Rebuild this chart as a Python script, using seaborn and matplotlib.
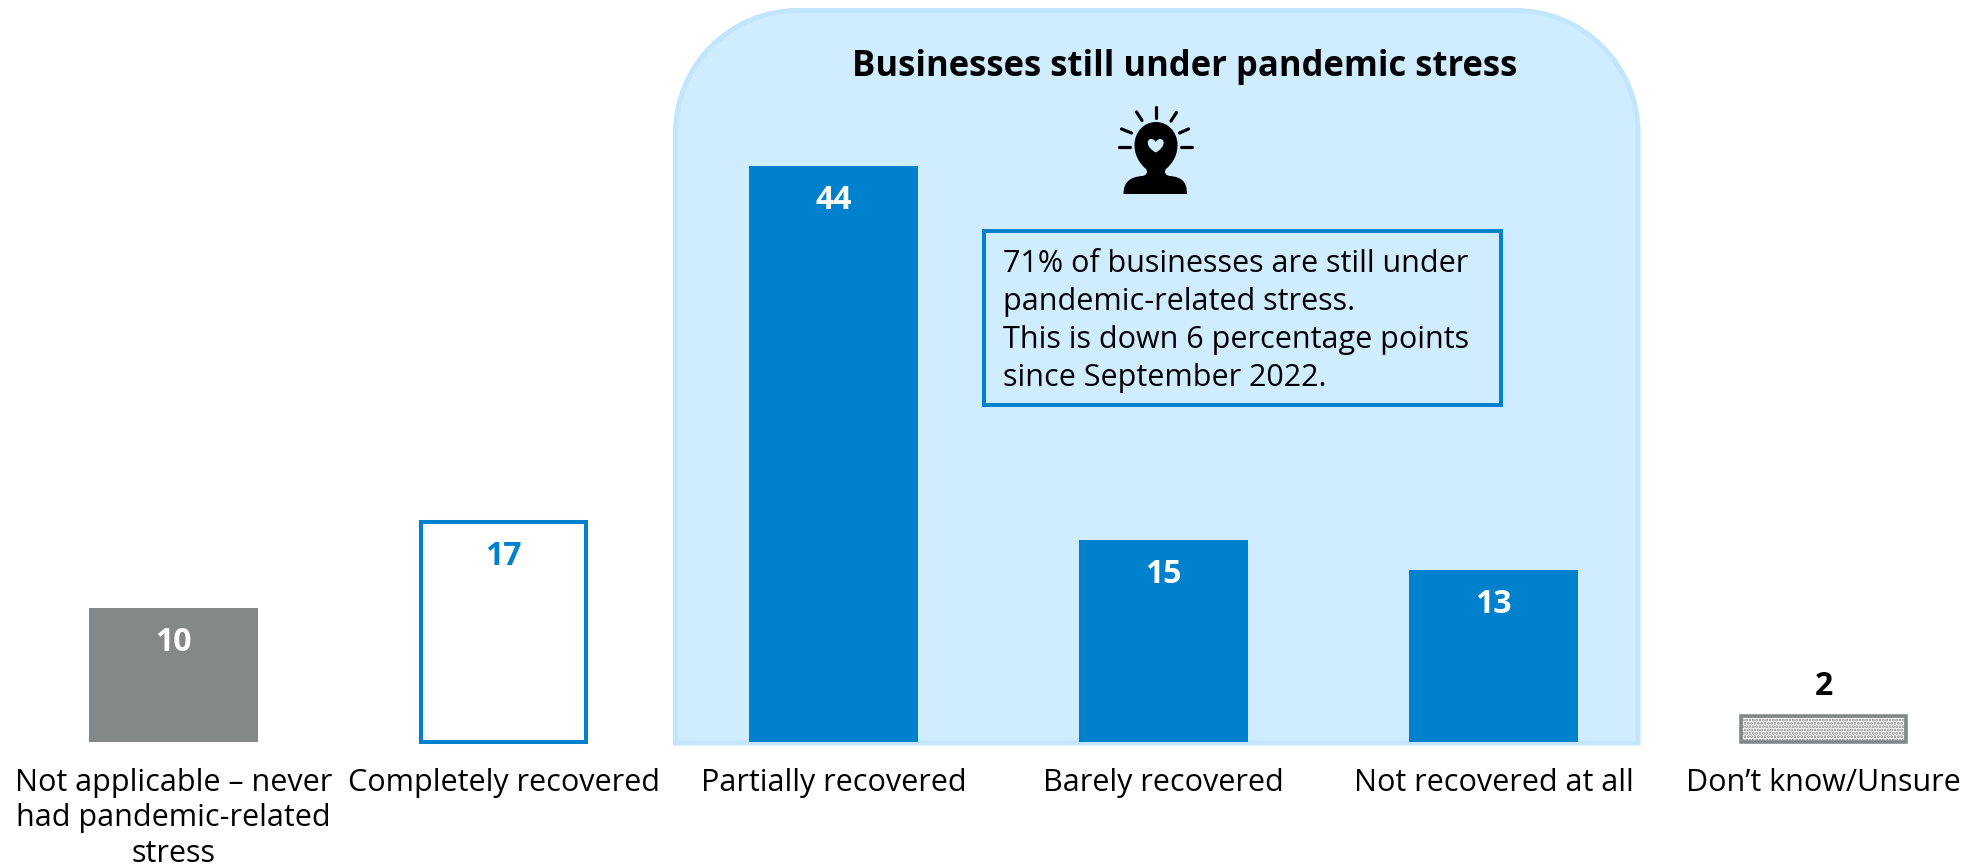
from __future__ import annotations

import matplotlib

matplotlib.use("Agg")

import matplotlib.pyplot as plt
import seaborn as sns
from matplotlib.patches import PathPatch, Rectangle
from matplotlib.path import Path
from matplotlib.transforms import Affine2D

categories = [
    "Not applicable \u2013 never\nhad pandemic-related\nstress",
    "Completely recovered",
    "Partially recovered",
    "Barely recovered",
    "Not recovered at all",
    "Don\u2019t know/Unsure",
]
# bar lengths; the printed labels are these, rounded
values = [10.2, 16.8, 44, 15.4, 13.1, 2]
bar_colors = ["#858888", "#FFFFFF", "#0081CE", "#0081CE", "#0081CE", "#FFFFFF"]
label_colors = ["white", "#0081CE", "white", "white", "white", "black"]

title_text = "Businesses still under pandemic stress"
note_text = (
    "71% of businesses are still under\n"
    "pandemic-related stress.\n"
    "This is down 6 percentage points\n"
    "since September 2022."
)

W, H = 1975, 867
BLUE = "#0081CE"
GREY = "#858888"
FONT = "Open Sans"

sns.set_theme(style="white")
plt.rcParams["font.family"] = [FONT, "DejaVu Sans"]
plt.rcParams["hatch.linewidth"] = 1.4

fig = plt.figure(figsize=(W / 100, H / 100), dpi=100, facecolor="white")
ax = fig.add_axes([0, (H - 742) / H, 1, 742 / H])
ax.patch.set_alpha(0)

sns.barplot(
    x=categories,
    y=values,
    hue=categories,
    palette=bar_colors,
    width=0.512,
    legend=False,
    saturation=1,
    edgecolor="none",
    ax=ax,
)
ax.set_xlim(-173.5 / 330, (W - 173.5) / 330)
ax.set_ylim(0, 742 / 13.1)
sns.despine(ax=ax, left=True, bottom=True)
ax.yaxis.set_visible(False)
ax.tick_params(axis="x", length=0, pad=19, labelsize=22, labelcolor="black")
for lab in ax.get_xticklabels():
    lab.set_linespacing(1.22)

bars = [c[0] for c in ax.containers]
for bar in bars:
    bar.set_zorder(2)
inset = 2 / 330
for i, lw, col in [(1, 2.9, BLUE), (5, 2.6, GREY)]:
    bars[i].set_x(bars[i].get_x() + inset)
    bars[i].set_width(bars[i].get_width() - 2 * inset)
    bars[i].set(edgecolor=col, linewidth=lw, clip_on=False)
bars[5].set_hatch(".....")

for i, (val, col) in enumerate(zip(values, label_colors)):
    offset = 29 if i == 5 else -34.5
    ax.annotate(
        f"{val:.0f}",
        (i, val),
        xytext=(0, offset * 0.72),
        textcoords="offset points",
        ha="center",
        va="center",
        fontsize=23,
        fontweight="bold",
        color=col,
        zorder=3,
    )

# everything below is placed in image pixels, y going down
px = Affine2D().scale(1, -1).translate(0, H)

l, r, t, b, rad = 675.5, 1638, 10.5, 743, 122
k = 0.55 * rad
panel = Path(
    [
        (l, b),
        (l, t + rad),
        (l, t + rad - k),
        (l + rad - k, t),
        (l + rad, t),
        (r - rad, t),
        (r - rad + k, t),
        (r, t + rad - k),
        (r, t + rad),
        (r, b),
        (l, b),
    ],
    [Path.MOVETO, Path.LINETO, Path.CURVE4, Path.CURVE4, Path.CURVE4, Path.LINETO,
     Path.CURVE4, Path.CURVE4, Path.CURVE4, Path.LINETO, Path.CLOSEPOLY],
)
ax.add_patch(PathPatch(panel, facecolor="#D0EDFF", edgecolor="#C2E6FF", linewidth=3.6,
                       transform=px, zorder=0.5, clip_on=False))

ax.text(1185, 67, title_text, transform=px, ha="center", va="center",
        fontsize=24.9, fontweight="bold", color="black")

ax.add_patch(Rectangle((984, 231), 517, 174, facecolor="none", edgecolor=BLUE,
                       linewidth=2.9, transform=px, zorder=3, clip_on=False))
ax.text(1003, 321, note_text, transform=px, ha="left", va="center",
        fontsize=22, linespacing=1.35, color="black", zorder=3)

# person icon
icon = dict(transform=px, zorder=3, clip_on=False)
C4 = Path.CURVE4
outline = Path(
    [
        (1123.5, 194),
        (1123.5, 182), (1130, 177), (1142, 176),
        (1147, 175.5), (1148, 172), (1146, 169),
        (1139, 163), (1134.5, 155), (1134.5, 145),
        (1134.5, 132), (1144, 122), (1156, 122),
        (1168, 122), (1177.5, 132), (1177.5, 145),
        (1177.5, 155), (1173, 163), (1166, 169),
        (1164, 172), (1165, 175.5), (1170, 176),
        (1182, 177), (1187, 182), (1187, 194),
        (1123.5, 194),
    ],
    [Path.MOVETO] + [C4] * 24 + [Path.CLOSEPOLY],
)
ax.add_patch(PathPatch(outline, facecolor="black", edgecolor="none", **icon))
hx = 1155.7
heart = Path(
    [
        (hx, 152.5),
        (hx - 10, 147), (hx - 9.5, 139), (hx - 4.5, 139),
        (hx - 2.5, 139), (hx - 0.5, 140.5), (hx, 142),
        (hx + 0.5, 140.5), (hx + 2.5, 139), (hx + 4.5, 139),
        (hx + 9.5, 139), (hx + 10, 147), (hx, 152.5),
    ],
    [Path.MOVETO] + [C4] * 12,
)
ax.add_patch(PathPatch(heart, facecolor="#D0EDFF", edgecolor="none", **icon))
for x0, y0, x1, y1 in [
    (1156, 106.5, 1156, 117.5),
    (1136.5, 112, 1142, 120.5),
    (1176.5, 112.5, 1171, 121),
    (1121.5, 129, 1131.5, 133),
    (1188.5, 129, 1179.5, 133),
    (1118.5, 147, 1129.5, 147),
    (1180.5, 147, 1191.5, 147),
]:
    ax.plot([x0, x1], [y0, y1], color="black", lw=2.3, solid_capstyle="round",
            transform=px, zorder=3, clip_on=False)

fig.savefig("out.png", dpi=100)
plt.close(fig)
